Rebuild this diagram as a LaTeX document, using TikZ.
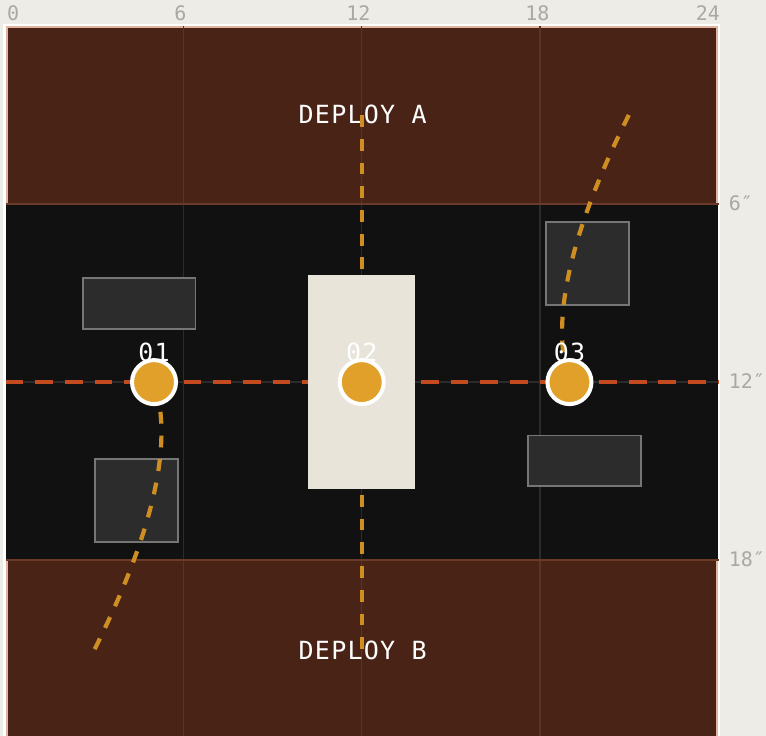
\documentclass[tikz,border=0pt]{standalone}
\usepackage{fontspec}
\newfontfamily\monofont{DejaVu Sans Mono}
\newfontfamily\monols{DejaVu Sans Mono}[LetterSpace=5]
\definecolor{bg}{HTML}{EEECE7}
\definecolor{zonebrown}{HTML}{4A2317}
\definecolor{fieldblack}{HTML}{111111}
\definecolor{salmon}{HTML}{E3B3A2}
\definecolor{zoneedge}{HTML}{6B3A28}
\definecolor{gridbrown}{HTML}{5C3325}
\definecolor{gridblack}{HTML}{2B2B2B}
\definecolor{ruinfill}{HTML}{2C2C2C}
\definecolor{ruinline}{HTML}{767676}
\definecolor{cream}{HTML}{E8E4DA}
\definecolor{objfill}{HTML}{E0A02A}
\definecolor{redline}{HTML}{C44B1F}
\definecolor{orangeline}{HTML}{CF8E22}
\definecolor{axisgray}{HTML}{AAA8A3}
\begin{document}
\begin{tikzpicture}[x=29.675pt,y=-29.675pt,
  ruin/.style={fill=ruinfill,draw=ruinline,line width=1.8pt},
  objdot/.style={circle,fill=objfill,draw=white,line width=4pt,minimum size=44pt,inner sep=0pt},
  objlabel/.style={text=white,font=\monols\fontsize{25}{25}\selectfont,inner sep=0pt,anchor=base},
  zonelabel/.style={text=white,font=\monols\fontsize{25}{25}\selectfont,inner sep=0pt,anchor=base},
  axislabel/.style={text=axisgray,font=\monofont\fontsize{20}{20}\selectfont,inner sep=0pt,anchor=base},
  reddash/.style={draw=redline,line width=4.5pt,dash pattern=on 17.8pt off 11.87pt},
  orangedash/.style={draw=orangeline,line width=4.2pt,dash pattern=on 11.87pt off 11.87pt},
  gridb/.style={draw=gridbrown,line width=1.5pt},
  gridk/.style={draw=gridblack,line width=1.5pt},
]
% background and bounding box
\fill[bg] (-0.1904,-0.8762) rectangle (25.623,23.926);
\useasboundingbox (-0.1904,-0.8762) rectangle (25.623,23.926);
% board frame
\fill[white] (-0.081,-0.081) rectangle (24.081,24.081);
% zones
\fill[zonebrown] (0,0) rectangle (24,6);
\fill[fieldblack] (0,6) rectangle (24,18);
\fill[zonebrown] (0,18) rectangle (24,24);
% salmon bands along deployment zone edges
\draw[salmon,line width=2pt] (0.034,6) -- (0.034,0.034) -- (23.966,0.034) -- (23.966,6);
\draw[salmon,line width=2pt] (0.034,18) -- (0.034,23.966) -- (23.966,23.966) -- (23.966,18);
% grid lines
\foreach \gx in {6,12,18} {
  \draw[gridb] (\gx,0) -- (\gx,6);
  \draw[gridk] (\gx,6) -- (\gx,18);
  \draw[gridb] (\gx,18) -- (\gx,24);
}
\draw[gridk] (0,12) -- (24.03,12);
\draw[zoneedge,line width=2pt] (0,6) -- (24.03,6);
\draw[zoneedge,line width=2pt] (0,18) -- (24.03,18);
% axis labels
\node[axislabel,anchor=base west] (ax0) at (0.045,-0.182) {0};
\node[axislabel] (ax6) at (5.892,-0.182) {6};
\node[axislabel] (ax12) at (11.884,-0.182) {12};
\node[axislabel] (ax18) at (17.916,-0.182) {18};
\node[axislabel,anchor=base east] (ax24) at (24.08,-0.182) {24};
\node[axislabel,anchor=base west] (ay6) at (24.365,6.224) {6″};
\node[axislabel,anchor=base west] (ay12) at (24.365,12.224) {12″};
\node[axislabel,anchor=base west] (ay18) at (24.365,18.224) {18″};
% zone labels
\node[zonelabel] (deployA) at (12.03,3.279) {DEPLOY A};
\node[zonelabel] (deployB) at (12.03,21.338) {DEPLOY B};
% ruins
\draw[ruin] (2.6,8.5) rectangle (6.4,10.2);
\draw[ruin] (3,14.6) rectangle (5.8,17.4);
\draw[ruin] (18.2,6.6) rectangle (21,9.4);
\draw[ruin] (17.6,13.8) rectangle (21.4,15.5);
% coordinates
\coordinate (rl) at (0,12);
\coordinate (rr) at (24,12);
\coordinate (vt) at (12,3);
\coordinate (vb) at (12,21);
\coordinate (ct) at (21,3);
\coordinate (cb) at (3,21);
\coordinate (p1) at (5,12);
\coordinate (p2) at (12,12);
\coordinate (p3) at (19,12);
% center line
\draw[reddash] (rl) -- (rr);
% movement lines
\draw[orangedash] (vt) -- (vb);
\draw[orangedash] (ct) .. controls (19,7) and (18.333,10) .. (p3);
\draw[orangedash] (cb) .. controls (5,17) and (5.667,14) .. (p1);
% central terrain
\fill[cream] (10.2,8.4) rectangle (13.8,15.6);
% objective labels
\node[objlabel] (l1) at (5,11.306) {01};
\node[objlabel] (l2) at (12,11.306) {02};
\node[objlabel] (l3) at (19,11.306) {03};
% objectives
\node[objdot] (o1) at (p1) {};
\node[objdot] (o2) at (p2) {};
\node[objdot] (o3) at (p3) {};
\end{tikzpicture}
\end{document}
